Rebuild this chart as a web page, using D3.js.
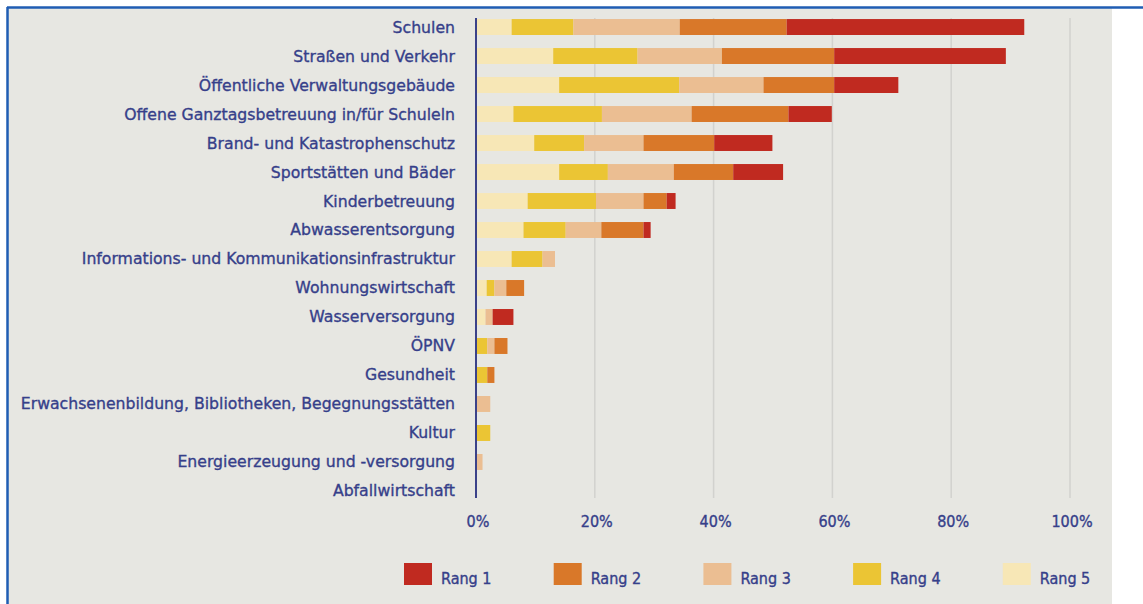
<!DOCTYPE html>
<html>
<head>
<meta charset="utf-8">
<script src="https://cdn.jsdelivr.net/npm/d3@7"></script>
<style>
  body { margin: 0; background: #fff; }
  svg { display: block; }
  text { font-family: "DejaVu Sans Condensed", "DejaVu Sans", sans-serif; fill: #363f8a; stroke: #363f8a; stroke-width: 0.35px; }
</style>
</head>
<body>
<div id="chart"></div>
<script>
// Kategorien (von oben nach unten)
var categories = [
  "Schulen",
  "Straßen und Verkehr",
  "Öffentliche Verwaltungsgebäude",
  "Offene Ganztagsbetreuung in/für Schuleln",
  "Brand- und Katastrophenschutz",
  "Sportstätten und Bäder",
  "Kinderbetreuung",
  "Abwasserentsorgung",
  "Informations- und Kommunikationsinfrastruktur",
  "Wohnungswirtschaft",
  "Wasserversorgung",
  "ÖPNV",
  "Gesundheit",
  "Erwachsenenbildung, Bibliotheken, Begegnungsstätten",
  "Kultur",
  "Energieerzeugung und -versorgung",
  "Abfallwirtschaft"
];

// Anteile in % je Rang
var rang5 = [6.0, 13.0, 14.0, 6.3, 9.8, 14.0, 8.7, 8.0, 6.0, 1.8, 1.6, 0, 0, 0, 0, 0, 0];
var rang4 = [10.4, 14.2, 20.2, 14.9, 8.4, 8.2, 11.5, 7.1, 5.2, 1.3, 0, 1.9, 1.9, 0, 2.4, 0, 0];
var rang3 = [17.9, 14.2, 14.2, 15.1, 10.0, 11.1, 8.0, 6.0, 2.1, 2.0, 1.2, 1.2, 0, 2.4, 0, 1.1, 0];
var rang2 = [18.0, 18.9, 11.9, 16.3, 11.9, 10.0, 3.9, 7.1, 0, 3.0, 0, 2.2, 1.2, 0, 0, 0, 0];
var rang1 = [40.0, 28.9, 10.8, 7.3, 9.8, 8.4, 1.5, 1.2, 0, 0, 3.5, 0, 0, 0, 0, 0, 0];

var ticks = [0, 20, 40, 60, 80, 100];
var tickLabels = ["0%", "20%", "40%", "60%", "80%", "100%"];

// Stapelreihenfolge von links: Rang 5 ... Rang 1
var stackKeys = ["Rang 5", "Rang 4", "Rang 3", "Rang 2", "Rang 1"];
var legendKeys = ["Rang 1", "Rang 2", "Rang 3", "Rang 4", "Rang 5"];
var colors = {
  "Rang 1": "#c02a20",
  "Rang 2": "#d97829",
  "Rang 3": "#ebbe92",
  "Rang 4": "#ebc534",
  "Rang 5": "#f7e7b6"
};

var table = categories.map(function(c, i) {
  return { cat: c, "Rang 5": rang5[i], "Rang 4": rang4[i], "Rang 3": rang3[i], "Rang 2": rang2[i], "Rang 1": rang1[i] };
});

var W = 1143, H = 604;

var svg = d3.select("#chart").append("svg")
  .attr("width", W)
  .attr("height", H);

// Panel + Rahmen
svg.append("rect")
  .attr("x", 8).attr("y", 8)
  .attr("width", 1104).attr("height", H - 8)
  .attr("fill", "#e7e7e2");
svg.append("line")
  .attr("x1", 7).attr("x2", W).attr("y1", 7.5).attr("y2", 7.5)
  .attr("stroke", "#1f5db3").attr("stroke-width", 2.5);
svg.append("line")
  .attr("x1", 7.5).attr("x2", 7.5).attr("y1", 7).attr("y2", H)
  .attr("stroke", "#1f5db3").attr("stroke-width", 2.5);

var x = d3.scaleLinear().domain([0, 100]).range([476, 1070]);
var y = d3.scaleBand().domain(categories).range([6, 512]).padding(0.45);

// Gitterlinien
svg.append("g").selectAll("line")
  .data(ticks.slice(1))
  .enter().append("line")
    .attr("x1", function(d) { return x(d); })
    .attr("x2", function(d) { return x(d); })
    .attr("y1", 18).attr("y2", 498)
    .attr("stroke", "#d2d2ce")
    .attr("stroke-width", 1.5);

var series = d3.stack().keys(stackKeys)(table);

svg.append("g").selectAll("g")
  .data(series)
  .enter().append("g")
    .attr("fill", function(d) { return colors[d.key]; })
  .selectAll("rect")
  .data(function(d) { return d; })
  .enter().append("rect")
    .attr("x", function(d) { return x(d[0]); })
    .attr("y", function(d) { return y(d.data.cat); })
    .attr("width", function(d) { return x(d[1]) - x(d[0]); })
    .attr("height", y.bandwidth());

// Achse bei 0
svg.append("line")
  .attr("x1", x(0)).attr("x2", x(0))
  .attr("y1", 18).attr("y2", 498)
  .attr("stroke", "#3b4289")
  .attr("stroke-width", 2);

// Kategorienbeschriftung
svg.append("g").selectAll("text")
  .data(categories)
  .enter().append("text")
    .attr("x", 455)
    .attr("y", function(d) { return y(d) + y.bandwidth() / 2; })
    .attr("dy", "0.35em")
    .attr("text-anchor", "end")
    .style("font-family", "'DejaVu Sans', sans-serif")
    .style("font-size", "15.7px")
    .text(function(d) { return d; });

// Tick-Beschriftung
svg.append("g").selectAll("text")
  .data(ticks)
  .enter().append("text")
    .attr("x", function(d) { return x(d) + 2; })
    .attr("y", 527)
    .attr("text-anchor", "middle")
    .style("font-size", "16px")
    .text(function(d, i) { return tickLabels[i]; });

// Legende
var legend = svg.append("g").selectAll("g")
  .data(legendKeys)
  .enter().append("g")
    .attr("transform", function(d, i) { return "translate(" + (404 + i * 149.7) + ",563)"; });

legend.append("rect")
  .attr("width", 28).attr("height", 22)
  .attr("fill", function(d) { return colors[d]; });

legend.append("text")
  .attr("x", 37)
  .attr("y", 21)
  .style("font-size", "16px")
  .text(function(d) { return d; });
</script>
</body>
</html>
